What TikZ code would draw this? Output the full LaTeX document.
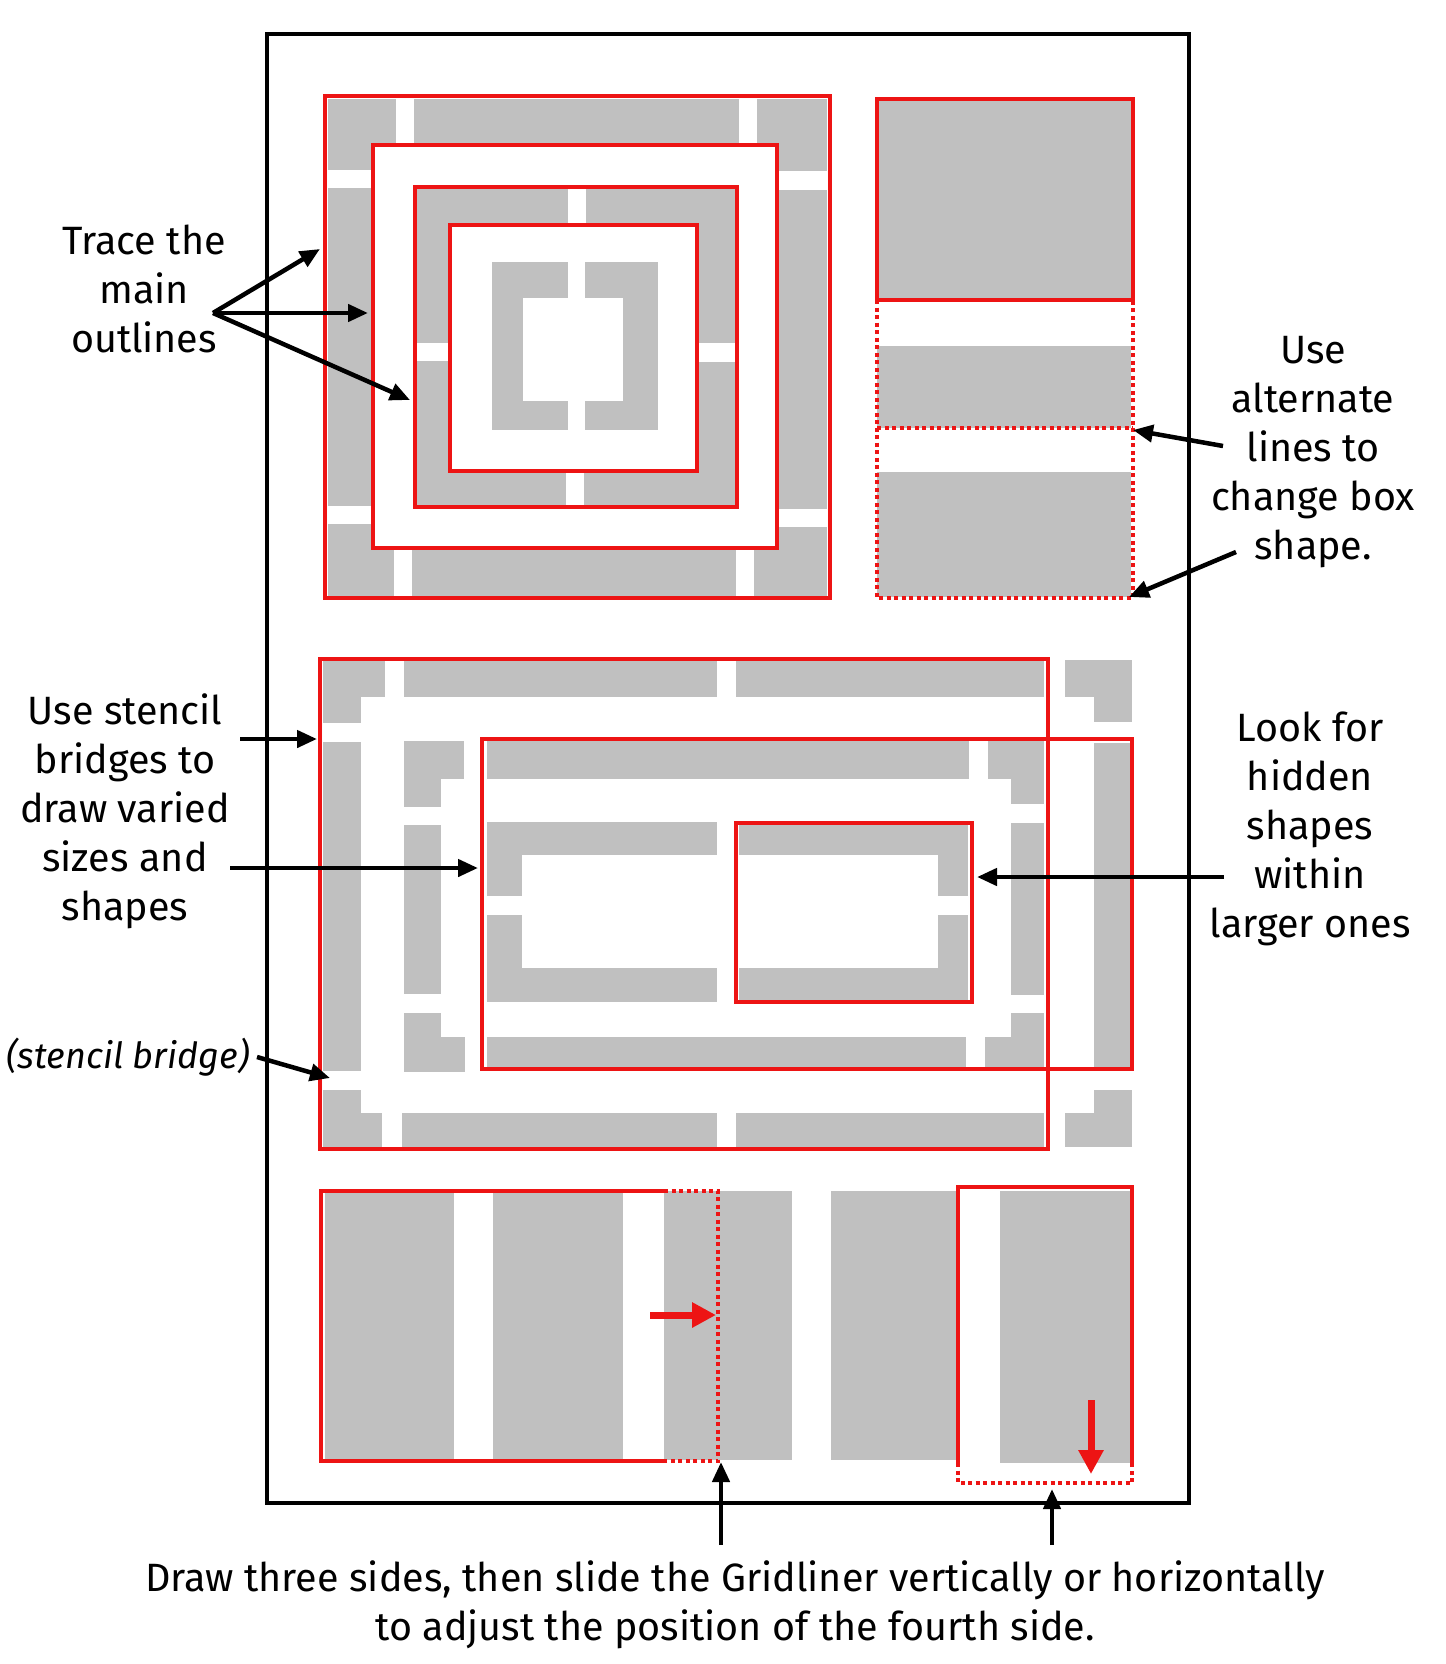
\documentclass[tikz,border=0pt]{standalone}
\usepackage{fontspec}
\setmainfont{Fira Sans}
\usetikzlibrary{arrows.meta}
\definecolor{lgray}{RGB}{192,192,192}
\definecolor{rline}{RGB}{237,20,20}
\tikzset{
  gry/.style={fill=lgray},
  wht/.style={fill=white},
  redbox/.style={draw=rline, line width=4.5pt},
  reddot/.style={draw=rline, line width=4pt, dash pattern=on 4pt off 3.5pt},
  blkarrow/.style={draw=black, line width=4.5pt, -{Triangle[length=20pt,width=17pt]}},
  redarrow/.style={draw=rline, line width=7pt, -{Triangle[length=24pt,width=24pt]}},
  lbl/.style={align=center, inner sep=0pt, font=\fontsize{39.5}{49}\selectfont},
}
\begin{document}
\begin{tikzpicture}[x=1pt,y=-1pt]
\useasboundingbox[fill=white] (0,0) rectangle (1445,1664);

% ---------- frame ----------
\draw[line width=4.5pt] (267,34) rectangle (1189,1503);

% ---------- top-left nested squares ----------
\fill[gry] (328,99) rectangle (827,597);
\fill[wht] (373,145) rectangle (778,548);
\fill[gry] (415,187) rectangle (737,507);
\fill[wht] (450,225) rectangle (697,471);
% outer bridges
\fill[wht] (396,99) rectangle (414,145);
\fill[wht] (739,99) rectangle (757,145);
\fill[wht] (394,548) rectangle (412,597);
\fill[wht] (736,548) rectangle (754,597);
\fill[wht] (328,170) rectangle (373,188);
\fill[wht] (328,506) rectangle (373,524);
\fill[wht] (778,171) rectangle (827,190);
\fill[wht] (778,509) rectangle (827,527);
% ring 2 bridges
\fill[wht] (568,187) rectangle (586,225);
\fill[wht] (566,471) rectangle (584,507);
\fill[wht] (415,343) rectangle (450,361);
\fill[wht] (697,343) rectangle (737,362);
% brackets
\fill[gry] (492,262) rectangle (568,430);
\fill[wht] (523,298) rectangle (568,401);
\fill[gry] (585,262) rectangle (658,430);
\fill[wht] (585,298) rectangle (623,401);
% red outlines
\draw[redbox] (325,96) rectangle (830,598);
\draw[redbox] (373,145) rectangle (777,548);
\draw[redbox] (415,187) rectangle (737,507);
\draw[redbox] (450,225) rectangle (697,471);

% ---------- top-right ----------
\fill[gry] (877,99) rectangle (1132,300);
\fill[gry] (877,346) rectangle (1131,428);
\fill[gry] (877,472) rectangle (1131,597);
\draw[redbox] (877,99) rectangle (1133,300);
\draw[reddot] (877,300) -- (877,598) -- (1133,598) -- (1133,300);
\draw[reddot] (877,428) -- (1133,428);

% ---------- middle ----------
% outer frame
\fill[gry] (323,660) rectangle (385,697);
\fill[gry] (323,660) rectangle (361,723);
\fill[gry] (404,660) rectangle (717,697);
\fill[gry] (736,660) rectangle (1044,697);
\fill[gry] (1065,660) rectangle (1132,697);
\fill[gry] (1094,660) rectangle (1132,722);
\fill[gry] (323,742) rectangle (361,1071);
\fill[gry] (323,1090) rectangle (361,1147);
\fill[gry] (323,1113) rectangle (382,1147);
\fill[gry] (402,1113) rectangle (717,1147);
\fill[gry] (736,1113) rectangle (1044,1147);
\fill[gry] (1094,1090) rectangle (1132,1147);
\fill[gry] (1065,1113) rectangle (1132,1147);
\fill[gry] (1094,743) rectangle (1132,1067);
% second frame
\fill[gry] (404,741) rectangle (464,779);
\fill[gry] (404,741) rectangle (441,807);
\fill[gry] (404,825) rectangle (441,994);
\fill[gry] (404,1013) rectangle (441,1072);
\fill[gry] (404,1037) rectangle (465,1072);
\fill[gry] (487,741) rectangle (969,779);
\fill[gry] (988,741) rectangle (1044,779);
\fill[gry] (1011,741) rectangle (1044,804);
\fill[gry] (1011,823) rectangle (1044,995);
\fill[gry] (1011,1013) rectangle (1044,1067);
\fill[gry] (985,1037) rectangle (1044,1067);
\fill[gry] (487,1037) rectangle (966,1067);
% inner brackets
\fill[gry] (487,822) rectangle (717,855);
\fill[gry] (487,822) rectangle (522,896);
\fill[gry] (487,915) rectangle (522,1002);
\fill[gry] (487,968) rectangle (717,1002);
\fill[gry] (739,822) rectangle (968,855);
\fill[gry] (938,822) rectangle (968,896);
\fill[gry] (938,915) rectangle (968,1002);
\fill[gry] (739,968) rectangle (968,1002);
% red outlines
\draw[redbox] (320,659) rectangle (1048,1149);
\draw[redbox] (482,739) rectangle (1132,1069);
\draw[redbox] (736,823) rectangle (972,1002);

% ---------- bottom ----------
\fill[gry] (325,1191) rectangle (454,1460);
\fill[gry] (493,1191) rectangle (623,1460);
\fill[gry] (664,1191) rectangle (792,1460);
\fill[gry] (831,1191) rectangle (958,1460);
\fill[gry] (1000,1191) rectangle (1130,1463);
\draw[redbox] (664,1191) -- (321,1191) -- (321,1461) -- (664,1461);
\draw[reddot] (664,1191) -- (718,1191) -- (718,1461) -- (664,1461);
\draw[redbox] (958,1463) -- (958,1187) -- (1132,1187) -- (1132,1463);
\draw[reddot] (958,1463) -- (958,1483) -- (1132,1483) -- (1132,1463);
\coordinate (rh0) at (650,1315);
\coordinate (rh1) at (716,1315);
\draw[redarrow] (rh0) -- (rh1);
\coordinate (rv0) at (1091,1400);
\coordinate (rv1) at (1091,1474);
\draw[redarrow] (rv0) -- (rv1);

% ---------- labels ----------
\node[lbl] (trace) at (144,289) {Trace the\\main\\outlines};
\coordinate (tr0) at (213,313);
\coordinate (tr1) at (320,249);
\coordinate (tr2) at (368,313);
\coordinate (tr3) at (410,400);
\draw[blkarrow] (tr0) -- (tr1);
\draw[blkarrow] (tr0) -- (tr2);
\draw[blkarrow] (tr0) -- (tr3);

\node[lbl] (alt) at (1313,452) {Use\\alternate\\lines to\\change box\\shape.};
\coordinate (al0) at (1223,446);
\coordinate (al1) at (1133,430);
\coordinate (al2) at (1236,552);
\coordinate (al3) at (1129,597);
\draw[blkarrow] (al0) -- (al1);
\draw[blkarrow] (al2) -- (al3);

\node[lbl] (sten) at (125,811) {Use stencil\\bridges to\\draw varied\\sizes and\\shapes};
\coordinate (st0) at (240,739);
\coordinate (st1) at (317,739);
\coordinate (st2) at (230,868);
\coordinate (st3) at (478,868);
\draw[blkarrow] (st0) -- (st1);
\draw[blkarrow] (st2) -- (st3);

\node[lbl, font=\fontsize{36}{49}\selectfont\itshape] (bridge) at (128,1057) {(stencil bridge)};
\coordinate (br0) at (257,1057);
\coordinate (br1) at (330,1078);
\draw[blkarrow] (br0) -- (br1);

\node[lbl] (hidden) at (1310,829) {Look for\\hidden\\shapes\\within\\larger ones};
\coordinate (hd0) at (1224,877);
\coordinate (hd1) at (977,877);
\draw[blkarrow] (hd0) -- (hd1);

\node[lbl] (draw3) at (735,1605) {Draw three sides, then slide the Gridliner vertically or horizontally\\to adjust the position of the fourth side.};
\coordinate (dw0) at (721,1545);
\coordinate (dw1) at (721,1462);
\coordinate (dw2) at (1052,1545);
\coordinate (dw3) at (1052,1489);
\draw[blkarrow] (dw0) -- (dw1);
\draw[blkarrow] (dw2) -- (dw3);
\end{tikzpicture}
\end{document}
